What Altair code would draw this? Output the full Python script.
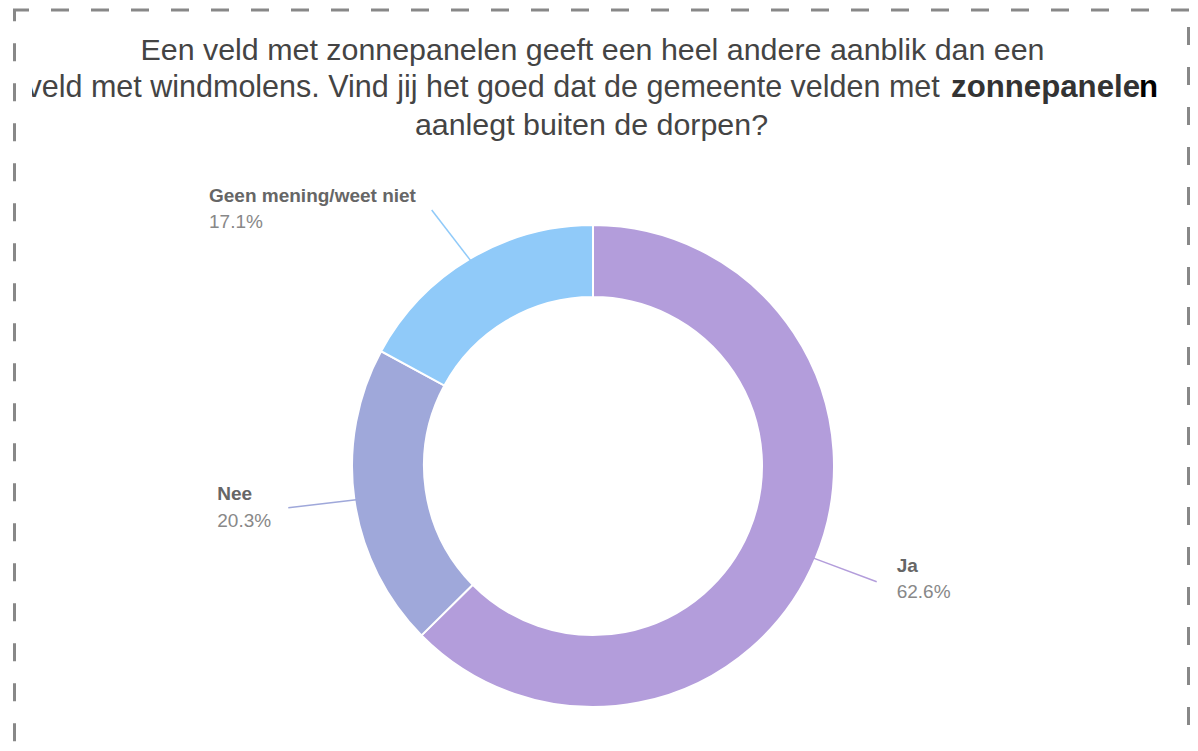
import math
import altair as alt
import pandas as pd

# ---- data ----
CATEGORIES = ["Ja", "Nee", "Geen mening/weet niet"]
PERCENTAGES = [62.6, 20.3, 17.1]
COLORS = ["#b39ddb", "#9fa8da", "#90caf9"]

TITLE_LINE_1 = "Een veld met zonnepanelen geeft een heel andere aanblik dan een"
TITLE_LINE_2_REGULAR = "veld met windmolens. Vind jij het goed dat de gemeente velden met"
TITLE_LINE_2_BOLD = "zonnepanele"
TITLE_LINE_2_LAST = "n"
TITLE_LINE_3 = "aanlegt buiten de dorpen?"

# ---- layout (chart pixel coordinates) ----
W, H = 1182, 735
CX, CY = 585, 458
R_IN, R_OUT = 169, 241
LABEL_X = [888.7, 209.3, 201.0]
LABEL_Y = [563.7, 492.0, 193.7]          # baseline of the name line
LINE_END = [(868.7, 573.7), (280.3, 499.7), (423.7, 202.0)]
FONT = "Liberation Sans"
BORDER = "#888888"
TSIZE = 30.4
BSIZE = 31.2

df = pd.DataFrame({
    "cat": CATEGORIES,
    "pct": PERCENTAGES,
    "order": list(range(len(CATEGORIES))),
    "pct_label": [f"{v:.1f}%" for v in PERCENTAGES],
    "lx": LABEL_X,
    "ly": LABEL_Y,
    "ly2": [y + 26.5 for y in LABEL_Y],
})

color = alt.Color("cat:N", scale=alt.Scale(domain=CATEGORIES, range=COLORS), legend=None)

arc = alt.Chart(df).mark_arc(
    innerRadius=R_IN, outerRadius=R_OUT, stroke="white", strokeWidth=2
).encode(
    theta=alt.Theta("pct:Q", stack=True),
    color=color,
    order=alt.Order("order:Q"),
    x=alt.value(CX),
    y=alt.value(CY),
)

# leader lines: start at the middle of each slice on the outer edge
total = sum(PERCENTAGES)
rows = []
cum = 0.0
for cat, v, end in zip(CATEGORIES, PERCENTAGES, LINE_END):
    mid = (cum + v / 2) / total * 2 * math.pi
    cum += v
    sx = CX + (R_OUT - 2) * math.sin(mid)
    sy = CY - (R_OUT - 2) * math.cos(mid)
    rows.append({"cat": cat, "x": sx, "y": sy, "k": 0})
    rows.append({"cat": cat, "x": end[0], "y": end[1], "k": 1})
lines_df = pd.DataFrame(rows)

leaders = alt.Chart(lines_df).mark_line(strokeWidth=1.5).encode(
    x=alt.X("x:Q", scale=None, axis=None),
    y=alt.Y("y:Q", scale=None, axis=None),
    color=color,
    detail="cat:N",
    order="k:Q",
)

names = alt.Chart(df).mark_text(
    font=FONT, fontSize=19, fontWeight="bold", color="#666666",
    align="left", baseline="alphabetic"
).encode(
    x=alt.X("lx:Q", scale=None, axis=None),
    y=alt.Y("ly:Q", scale=None, axis=None),
    text="cat:N",
)

pcts = alt.Chart(df).mark_text(
    font=FONT, fontSize=19, color="#888888",
    align="left", baseline="alphabetic"
).encode(
    x=alt.X("lx:Q", scale=None, axis=None),
    y=alt.Y("ly2:Q", scale=None, axis=None),
    text="pct_label:N",
)

def text_layer(txt, x, y, align, weight="normal", col="#444444", size=TSIZE):
    return alt.Chart(pd.DataFrame({"t": [txt]})).mark_text(
        font=FONT, fontSize=size, fontWeight=weight, color=col,
        align=align, baseline="alphabetic"
    ).encode(text="t:N", x=alt.value(x), y=alt.value(y))

t1 = text_layer(TITLE_LINE_1, 584.5, 52, "center")
t2a = text_layer(TITLE_LINE_2_REGULAR, 18.5, 89, "left", size=30.5)
t2b = text_layer(TITLE_LINE_2_BOLD, 1132, 89, "right", "bold", "#333333", BSIZE)
t2c = text_layer(TITLE_LINE_2_LAST, 1150, 89, "right", "bold", "#000000", BSIZE)
t3 = text_layer(TITLE_LINE_3, 583.5, 127, "center")

dummy = pd.DataFrame({"a": [0]})
mask = alt.Chart(dummy).mark_rect(color="white").encode(
    x=alt.value(9), x2=alt.value(24), y=alt.value(62), y2=alt.value(98)
)

def hrule(y, x1, x2, offset):
    return alt.Chart(dummy).mark_rule(
        color=BORDER, strokeWidth=3, strokeDash=[18, 22], strokeDashOffset=offset
    ).encode(x=alt.value(x1), x2=alt.value(x2), y=alt.value(y))

def vrule(x, y1, y2, offset):
    return alt.Chart(dummy).mark_rule(
        color=BORDER, strokeWidth=3, strokeDash=[18, 22], strokeDashOffset=offset
    ).encode(x=alt.value(x), y=alt.value(y1), y2=alt.value(y2))

border_top = hrule(2, 5, W, 2)
border_left = vrule(6.5, 2, 760, 6.7)
border_right = vrule(W - 1.5, 2, 760, 23)

chart = alt.layer(
    arc, leaders, names, pcts, t1, t2a, t2b, t2c, t3, mask,
    border_top, border_left, border_right
).properties(
    width=W, height=H, autosize="none", padding=0, background="white"
).configure_view(strokeWidth=0)

chart.save("out.html", embed_options={"renderer": "svg", "actions": False})
